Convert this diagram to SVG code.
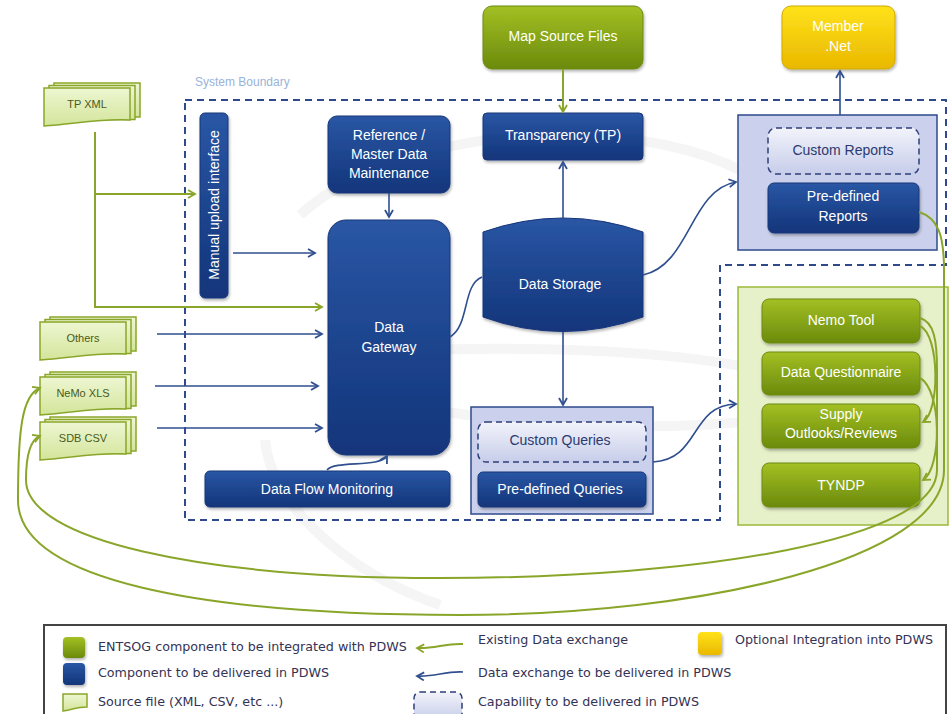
<svg xmlns="http://www.w3.org/2000/svg" width="950" height="714" viewBox="0 0 950 714">
<defs>
<linearGradient id="gBlue" x1="0" y1="0" x2="0" y2="1"><stop offset="0" stop-color="#2a56a4"/><stop offset="1" stop-color="#12357a"/></linearGradient>
<linearGradient id="gGreen" x1="0" y1="0" x2="0" y2="1"><stop offset="0" stop-color="#a3c023"/><stop offset="1" stop-color="#6b8a0c"/></linearGradient>
<linearGradient id="gYellow" x1="0" y1="0" x2="0" y2="1"><stop offset="0" stop-color="#ffe21a"/><stop offset="1" stop-color="#e9b800"/></linearGradient>
<linearGradient id="gDoc" x1="0" y1="0" x2="0" y2="1"><stop offset="0" stop-color="#eef6d2"/><stop offset="1" stop-color="#d3e59a"/></linearGradient>
<linearGradient id="gDash" x1="0" y1="0" x2="0" y2="1"><stop offset="0" stop-color="#f2f3fa"/><stop offset="1" stop-color="#c7cdea"/></linearGradient>
<filter id="sh" x="-10%" y="-10%" width="130%" height="130%"><feDropShadow dx="1" dy="2" stdDeviation="1.5" flood-color="#000" flood-opacity="0.3"/></filter>
<marker id="aB" markerWidth="10" markerHeight="10" refX="8" refY="5" orient="auto" markerUnits="userSpaceOnUse"><path d="M1,1 L8,5 L1,9" fill="none" stroke="#2f4f8f" stroke-width="1.8"/></marker>
<marker id="aG" markerWidth="10" markerHeight="10" refX="8" refY="5" orient="auto" markerUnits="userSpaceOnUse"><path d="M1,1 L8,5 L1,9" fill="none" stroke="#8aa62a" stroke-width="1.8"/></marker>
<g id="docshape">
<path d="M10,-5 h86 v34 h-86 z" fill="url(#gDoc)" stroke="#8aa62a" stroke-width="1.5"/>
<path d="M5,-2.5 h86 v34 h-86 z" fill="url(#gDoc)" stroke="#8aa62a" stroke-width="1.5"/>
<path d="M0,0 h86 v32 C60,30 30,36 0,38 z" fill="url(#gDoc)" stroke="#8aa62a" stroke-width="1.5"/>
</g>
</defs>
<style>
.t{font-family:"Liberation Sans",Arial,sans-serif;font-size:14px;fill:#ffffff;text-anchor:middle}
.td{font-family:"Liberation Sans",Arial,sans-serif;font-size:14px;fill:#2b3a70;text-anchor:middle}
.ts{font-family:"Liberation Sans",Arial,sans-serif;font-size:11px;fill:#4a5a1a;text-anchor:middle}
.lg{font-family:"DejaVu Sans",Verdana,sans-serif;font-size:12.7px;fill:#333355}
.blue{fill:url(#gBlue);stroke:#17367a;stroke-width:1;filter:url(#sh)}
.green{fill:url(#gGreen);stroke:#6d8a12;stroke-width:1;filter:url(#sh)}
.cont{fill:#cbd1ec;stroke:#2e4a8c;stroke-width:1.5}
.dash{fill:url(#gDash);stroke:#2e3f78;stroke-width:1.5;stroke-dasharray:6,4}
.cb{fill:none;stroke:#2f4f8f;stroke-width:1.6}
.cg{fill:none;stroke:#8aa62a;stroke-width:2}
.wm{fill:none;stroke:#f5f5f5;stroke-width:10}
</style>
<rect width="950" height="714" fill="#ffffff"/>
<g id="watermark">
<path class="wm" d="M300,215 C360,160 470,135 560,135 C640,135 700,150 740,170"/>
<path class="wm" d="M350,355 C450,345 650,345 760,370 C850,390 820,420 700,425 C600,430 470,420 380,400"/>
<path class="wm" d="M265,440 C270,500 340,570 440,605" stroke-width="8"/>
</g>
<text x="195" y="86" font-family="Liberation Sans,Arial,sans-serif" font-size="12" fill="#9ab3d9">System Boundary</text>
<path id="boundary" d="M185,100 H946 V265 H720 V520 H185 Z" fill="none" stroke="#2e4a8c" stroke-width="2" stroke-dasharray="7,5"/>
<g id="sources">
<g id="tpxml"><use href="#docshape" x="44" y="88"/><text class="ts" x="87" y="108">TP XML</text></g>
<g id="others"><use href="#docshape" x="40" y="322"/><text class="ts" x="83" y="342">Others</text></g>
<g id="nemoxls"><use href="#docshape" x="40" y="377"/><text class="ts" x="83" y="397">NeMo XLS</text></g>
<g id="sdbcsv"><use href="#docshape" x="40" y="422"/><text class="ts" x="83" y="442">SDB CSV</text></g>
</g>
<g id="manual"><rect class="blue" x="200" y="113" width="28" height="185" rx="5"/><text class="t" font-size="13" transform="rotate(-90 214 205)" x="214" y="210">Manual upload interface</text></g>
<g id="refdata"><rect class="blue" x="328" y="116" width="122" height="77" rx="9"/><text class="t" x="389" y="140">Reference /</text><text class="t" x="389" y="159">Master Data</text><text class="t" x="389" y="178">Maintenance</text></g>
<g id="gateway"><rect class="blue" x="328" y="220" width="122" height="235" rx="18"/><text class="t" x="389" y="332">Data</text><text class="t" x="389" y="352">Gateway</text></g>
<g id="dfm"><rect class="blue" x="205" y="471" width="245" height="36" rx="5"/><text class="t" font-size="15" x="327" y="494">Data Flow Monitoring</text></g>
<g id="mapsrc"><rect class="green" x="483" y="6" width="160" height="63" rx="9"/><text class="t" x="563" y="41">Map Source Files</text></g>
<g id="tp"><rect class="blue" x="483" y="113" width="160" height="47" rx="4"/><text class="t" x="563" y="140">Transparency (TP)</text></g>
<g id="storage"><path class="blue" d="M483,232 Q563,204 643,232 L643,317 Q563,346 483,317 Z"/><text class="t" x="560" y="289">Data Storage</text></g>
<g id="queries"><rect class="cont" x="471" y="407" width="182" height="107"/>
<rect class="dash" x="478" y="422" width="168" height="40" rx="8"/><text class="td" x="560" y="445">Custom Queries</text>
<rect class="blue" x="478" y="472" width="168" height="35" rx="5"/><text class="t" x="560" y="494">Pre-defined Queries</text></g>
<g id="member"><rect x="782" y="6" width="113" height="63" rx="9" fill="url(#gYellow)" stroke="#d0a800" filter="url(#sh)"/><text class="t" x="838" y="31">Member</text><text class="t" x="838" y="51">.Net</text></g>
<g id="reports"><rect class="cont" x="738" y="115" width="199" height="135"/>
<rect class="dash" x="768" y="128" width="151" height="46" rx="8"/><text class="td" x="843" y="155">Custom Reports</text>
<rect class="blue" x="768" y="183" width="151" height="50" rx="6"/><text class="t" x="843" y="201">Pre-defined</text><text class="t" x="843" y="221">Reports</text></g>
<g id="entsog"><rect x="738" y="287" width="210" height="238" fill="#e6f0c9" stroke="#9ab83a" stroke-width="1.5"/>
<rect class="green" x="762" y="299" width="158" height="44" rx="7"/><text class="t" x="841" y="325">Nemo Tool</text>
<rect class="green" x="762" y="352" width="158" height="43" rx="7"/><text class="t" x="841" y="377">Data Questionnaire</text>
<rect class="green" x="762" y="404" width="158" height="44" rx="7"/><text class="t" x="841" y="419">Supply</text><text class="t" x="841" y="438">Outlooks/Reviews</text>
<rect class="green" x="762" y="463" width="158" height="44" rx="7"/><text class="t" x="841" y="490">TYNDP</text></g>
<g id="connectors">
<path class="cg" d="M95,132 V307 H322" marker-end="url(#aG)"/>
<path class="cg" d="M95,194 H195" marker-end="url(#aG)"/>
<path class="cg" d="M563,69 V112" marker-end="url(#aG)"/>
<path class="cb" d="M233,253 H315" marker-end="url(#aB)"/>
<path class="cb" d="M157,334 H322" marker-end="url(#aB)"/>
<path class="cb" d="M155,386 H318" marker-end="url(#aB)"/>
<path class="cb" d="M157,428 H322" marker-end="url(#aB)"/>
<path class="cb" d="M389,193 V217" marker-end="url(#aB)"/>
<path class="cb" d="M563,220 V162" marker-end="url(#aB)"/>
<path class="cb" d="M563,332 V405" marker-end="url(#aB)"/>
<path class="cb" d="M450,337 C470,325 462,285 482,277"/>
<path class="cb" d="M327,470 C335,460 380,468 387,456" marker-end="url(#aB)"/>
<path class="cb" d="M643,275 C690,265 690,190 736,182" marker-end="url(#aB)"/>
<path class="cb" d="M653,462 C700,460 690,405 736,404" marker-end="url(#aB)"/>
<path class="cb" d="M840,115 V71" marker-end="url(#aB)"/>
<path class="cg" d="M920,326 C940,335 940,412 923,422" marker-end="url(#aG)"/>
<path class="cg" d="M920,378 C942,390 942,468 923,480" marker-end="url(#aG)"/>
<path class="cg" d="M919,212 C938,218 944,235 944,270 L944,470 C944,560 700,615 460,615 C200,615 18,580 18,500 C18,430 22,395 40,388" marker-end="url(#aG)"/>
<path class="cg" d="M920,318 C934,322 937,340 937,370 L937,470 C937,540 700,578 440,578 C200,578 26,540 26,480 C26,455 30,440 40,436" marker-end="url(#aG)"/>
</g>
<g id="legend">
<rect x="44" y="625" width="902" height="100" fill="#ffffff" stroke="#444444" stroke-width="2"/>
<rect x="63" y="637" width="22" height="21" rx="4" fill="url(#gGreen)" filter="url(#sh)"/>
<text class="lg" x="98" y="651">ENTSOG component to be integrated with PDWS</text>
<rect x="63" y="663" width="22" height="22" rx="4" fill="url(#gBlue)" filter="url(#sh)"/>
<text class="lg" x="98" y="677">Component to be delivered in PDWS</text>
<path d="M63,694 h24 v13 C78,707 70,710 63,711 z" fill="url(#gDoc)" stroke="#8aa62a" stroke-width="1.5"/>
<text class="lg" x="98" y="706">Source file (XML, CSV, etc ...)</text>
<path class="cg" d="M463,644 C445,643 435,649 417,648" marker-end="url(#aG)"/>
<text class="lg" x="478" y="644">Existing Data exchange</text>
<path class="cb" d="M463,672 C445,671 435,677 417,676" marker-end="url(#aB)"/>
<text class="lg" x="478" y="677">Data exchange to be delivered in PDWS</text>
<rect class="dash" x="414" y="692" width="48" height="28" rx="6"/>
<text class="lg" x="478" y="706">Capability to be delivered in PDWS</text>
<rect x="698" y="632" width="24" height="23" rx="4" fill="url(#gYellow)" filter="url(#sh)"/>
<text class="lg" x="735" y="644">Optional Integration into PDWS</text>
</g>
</svg>
